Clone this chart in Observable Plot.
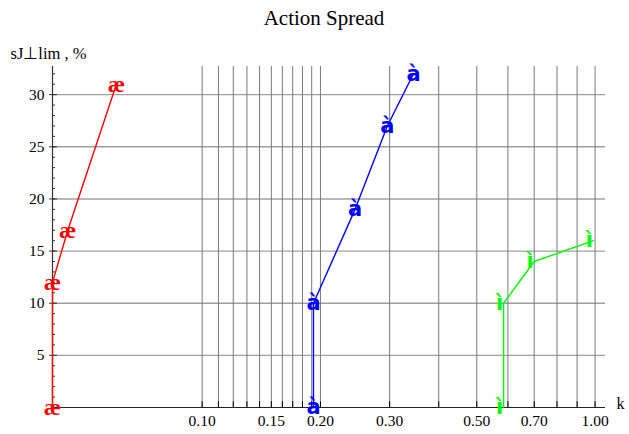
<!DOCTYPE html>
<html>
<head>
<meta charset="utf-8">
<script src="https://cdn.jsdelivr.net/npm/d3@7"></script>
<script src="https://cdn.jsdelivr.net/npm/@observablehq/plot@0.6"></script>
<style>
  html, body { margin: 0; padding: 0; background: #fff; }
  #chart svg { display: block; }
</style>
</head>
<body>
<div id="chart"></div>
<script>
// ---- data ----
const redK = [0.0416, 0.0416, 0.0455, 0.0605];
const redS = [0, 12, 17, 31];
const blueK = [0.192, 0.192, 0.245, 0.296, 0.345];
const blueS = [0, 10, 19, 27, 32];
const greenK = [0.585, 0.585, 0.70, 0.99];
const greenS = [0, 10, 14, 16];

const xTickLabels = [0.10, 0.15, 0.20, 0.30, 0.50, 0.70, 1.00];
const xGrid = [0.10, 0.11, 0.12, 0.13, 0.14, 0.15, 0.16, 0.17, 0.18, 0.19, 0.20, 0.30, 0.40, 0.50, 0.60, 0.70, 0.80, 0.90, 1.00];
const yTickLabels = [5, 10, 15, 20, 25, 30];
const yMinor = d3.range(1, 33);

const title = "Action Spread";
const yLabel = "sJ\u22A5lim , %";
const xLabel = "k";

// ---- build ----
const series = [
  {name: "red", k: redK, s: redS, color: "#ff0000", glyph: "\u00e6", font: "Liberation Serif", dx: 0},
  {name: "blue", k: blueK, s: blueS, color: "#0000ff", glyph: "\u00e0", font: "DejaVu Sans", dx: 0},
  {name: "green", k: greenK, s: greenS, color: "#00ff00", glyph: "\u00ec", font: "DejaVu Sans", dx: -4}
];
const rows = series.flatMap(sr => sr.k.map((k, i) => ({series: sr.name, k, s: sr.s[i], color: sr.color})));

const xmin = d3.min(redK);
const xmax = 1.063;
const ymax = 32.7;
const serif = "Liberation Serif, Times New Roman, serif";

const marks = [
  // grid
  Plot.ruleY(yTickLabels, {x1: xmin, x2: xmax, stroke: "#a0a0a0", strokeWidth: 1.4}),
  Plot.ruleX(xGrid, {y1: 0, y2: ymax, stroke: "#7a7a7a", strokeWidth: 1}),
  // x ticks
  Plot.ruleX(xGrid, {y1: 0, y2: 0.55, stroke: "#000", strokeWidth: 1}),
  // y ticks
  Plot.ruleY(yMinor, {x1: xmin, x2: xmin, insetRight: -3, stroke: "#333", strokeWidth: 1}),
  Plot.ruleY(yTickLabels, {x1: xmin, x2: xmin, insetRight: -5, insetLeft: -3, stroke: "#333", strokeWidth: 1}),
  // axis lines
  Plot.ruleY([0], {x1: xmin, x2: xmax, stroke: "#222", strokeWidth: 1.2}),
  Plot.ruleX([xmin], {y1: 0, y2: ymax, stroke: "#333", strokeWidth: 1.2}),
  // tick labels
  Plot.text(xTickLabels, {x: d => d, y: 0, text: d => d.toFixed(2), dy: 7, lineAnchor: "top", textAnchor: "middle", fontSize: 15.5, fontFamily: serif, fill: "#000"}),
  Plot.text(yTickLabels, {x: xmin, y: d => d, text: d => String(d), dx: -8, lineAnchor: "middle", textAnchor: "end", fontSize: 15.5, fontFamily: serif, fill: "#000"}),
  // lines
  Plot.line(rows, {x: "k", y: "s", z: "series", stroke: "color", strokeWidth: 1.4}),
  // markers
  ...series.map(sr => Plot.text(rows.filter(r => r.series === sr.name), {
    x: "k", y: "s", text: () => sr.glyph, fill: sr.color, fontSize: sr.name === "red" ? 24 : 21,
    fontWeight: "bold", fontFamily: sr.font, dx: sr.dx, lineAnchor: "middle", textAnchor: "middle"
  })),
  // title & labels
  Plot.text([title], {frameAnchor: "top", dx: -5, dy: -56, fontSize: 21, fontFamily: serif, fill: "#000"}),
  Plot.text([yLabel], {frameAnchor: "top-left", dx: -42, dy: -19, textAnchor: "start", fontSize: 16.5, fontFamily: serif, fill: "#000"}),
  Plot.text([xLabel], {frameAnchor: "bottom-right", dx: 11, dy: 1, textAnchor: "start", fontSize: 16, fontFamily: serif, fill: "#000"})
];

const chart = Plot.plot({
  width: 629,
  height: 434,
  marginLeft: 52,
  marginRight: 24,
  marginTop: 66,
  marginBottom: 27,
  style: {fontFamily: serif, background: "#fff", overflow: "visible"},
  x: {type: "log", domain: [xmin, xmax], axis: null},
  y: {domain: [0, ymax], axis: null},
  marks
});
document.getElementById("chart").append(chart);
</script>
</body>
</html>
